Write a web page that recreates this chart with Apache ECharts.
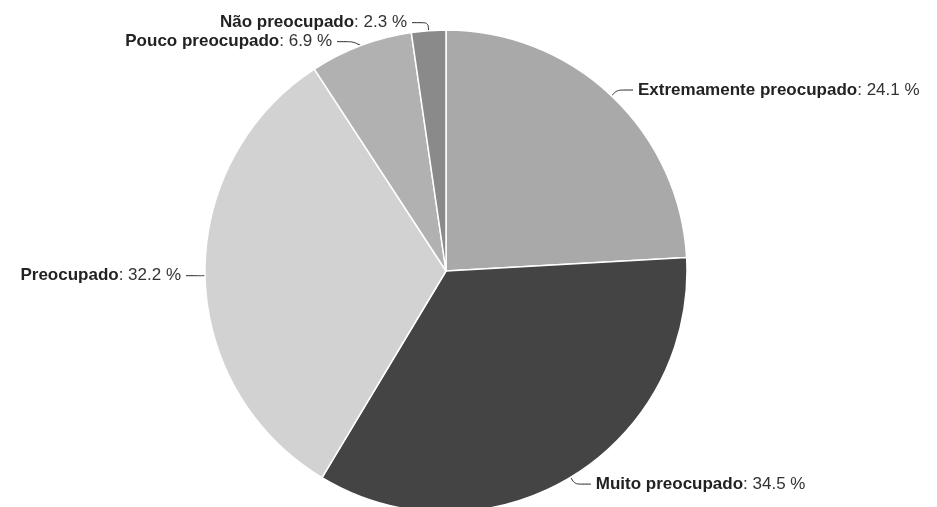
<!DOCTYPE html>
<html>
<head>
<meta charset="utf-8">
<script src="https://cdn.jsdelivr.net/npm/echarts@6/dist/echarts.min.js"></script>
<style>
  html, body { margin: 0; padding: 0; background: #fff; }
  #chart { width: 937px; height: 507px; }
</style>
</head>
<body>
<div id="chart"></div>
<script>
// categorias e valores (%)
var categories = ['Extremamente preocupado', 'Muito preocupado', 'Preocupado', 'Pouco preocupado', 'Não preocupado'];
var values = [24.1, 34.5, 32.2, 6.9, 2.3];
var colors = ['#a9a9a9', '#444444', '#d2d2d2', '#b1b1b1', '#8a8a8a'];

var pieData = categories.map(function (name, i) {
    return { name: name, value: values[i], itemStyle: { color: colors[i] } };
});

var myChart = echarts.init(document.getElementById('chart'));
myChart.setOption({
    backgroundColor: '#ffffff',
    animation: false,
    series: [{
        type: 'pie',
        center: [446, 271],
        radius: 241,
        startAngle: 90,
        clockwise: true,
        data: pieData,
        itemStyle: { borderColor: '#ffffff', borderWidth: 1.5 },
        label: {
            show: true,
            overflow: 'none',
            formatter: '{n|{b}}{v|: {c} %}',
            rich: {
                n: { fontFamily: 'Liberation Sans', fontWeight: 'bold', fontSize: 17, color: '#222' },
                v: { fontFamily: 'Liberation Sans', fontSize: 17, color: '#333' }
            }
        },
        labelLine: {
            show: true,
            length: 8,
            length2: 16,
            smooth: 0.3,
            lineStyle: { color: '#222', width: 1 }
        }
    }]
});
</script>
</body>
</html>
